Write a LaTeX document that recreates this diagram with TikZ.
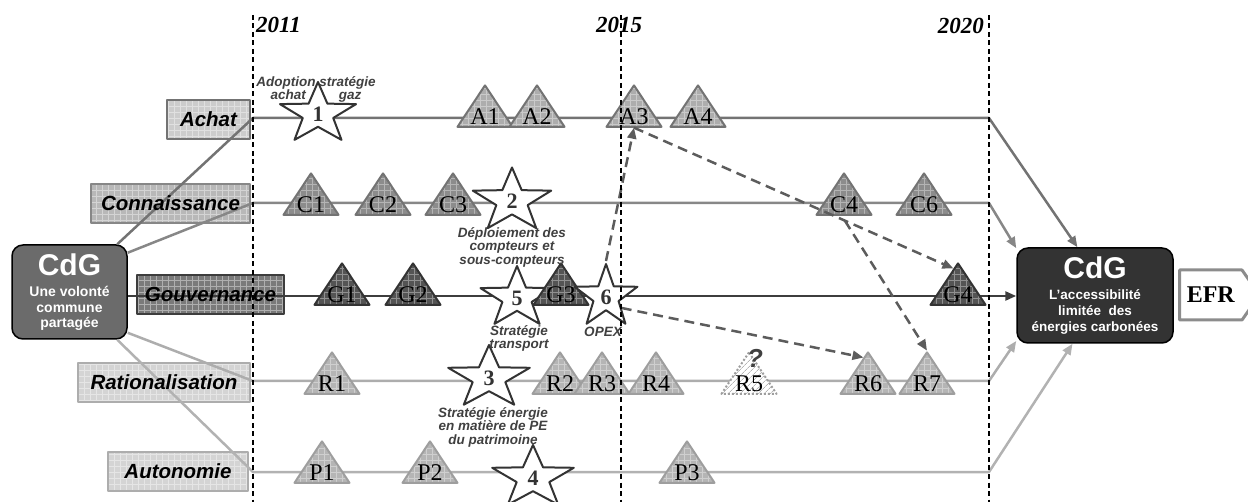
\documentclass[tikz,border=0pt]{standalone}
\usepackage{fontspec}
\setmainfont{Liberation Serif}
\setsansfont{Liberation Sans}
\usetikzlibrary{shapes.geometric,shapes.symbols,arrows.meta,calc,patterns.meta}
\definecolor{lnA}{gray}{0.45}
\definecolor{lnC}{gray}{0.53}
\definecolor{lnG}{gray}{0.24}
\definecolor{lnR}{gray}{0.68}
\definecolor{lnP}{gray}{0.70}
\definecolor{triA}{gray}{0.68}
\definecolor{triC}{gray}{0.55}
\definecolor{triG}{gray}{0.33}
\definecolor{triR}{gray}{0.71}
\definecolor{triRl}{gray}{0.62}
\definecolor{boxA}{gray}{0.80}
\definecolor{boxC}{gray}{0.72}
\definecolor{boxG}{gray}{0.48}
\definecolor{boxR}{gray}{0.83}
\definecolor{cdgleft}{gray}{0.42}
\definecolor{cdgright}{gray}{0.2}
\definecolor{starln}{gray}{0.2}
\definecolor{noteln}{gray}{0.25}
\definecolor{dashln}{gray}{0.36}
\definecolor{efrln}{gray}{0.55}
\begin{document}
\begin{tikzpicture}[x=1pt, y=-1pt, line join=round,
    row box/.style 2 args={draw=#1, line width=2.5pt, preaction={fill=#2},
      pattern={Hatch[angle=0,distance=6pt,line width=0.4pt]}, pattern color=white!40!#2,
      inner sep=0pt, minimum height=39pt},
    box text/.style={inner sep=0pt, font=\sffamily\bfseries\itshape\fontsize{20.5pt}{22pt}\selectfont},
    cdg box/.style={draw=black, line width=1.5pt, rounded corners=11pt, text=white,
      align=center, inner sep=0pt, font=\sffamily\bfseries\fontsize{14pt}{15.5pt}\selectfont},
    mile node/.style 2 args={regular polygon, regular polygon sides=3, minimum size=63.5pt,
      inner sep=0pt, yscale=0.87, line width=2pt, draw=#1, preaction={fill=#2},
      pattern={Hatch[angle=0,distance=6pt,line width=0.5pt]}, pattern color=white!35!#2},
    mile text/.style={font=\fontsize{24pt}{24pt}\selectfont, inner sep=0pt, yshift=-3.5pt},
    r5 node/.style={regular polygon, regular polygon sides=3, minimum size=63.5pt,
      inner sep=0pt, yscale=0.87, line width=2pt, draw=triRl, dotted, preaction={fill=white},
      pattern={Lines[angle=45,distance=4pt,line width=0.8pt]}, pattern color=triR},
    star node/.style={star, star points=5, star point ratio=2.5, minimum size=#1,
      inner sep=0pt, draw=starln, fill=white, line width=2pt},
    star num/.style={font=\bfseries\fontsize{22pt}{22pt}\selectfont, text=starln, inner sep=0pt},
    note/.style={align=center, inner sep=0pt, text=noteln,
      font=\sffamily\bfseries\itshape\fontsize{13.5pt}{13.5pt}\selectfont},
    year/.style={inner sep=0pt, font=\bfseries\itshape\fontsize{23pt}{23pt}\selectfont},
    year line/.style={line width=1.3pt, dash pattern=on 5pt off 3.5pt},
    row line/.style={line width=2.5pt, draw=#1, -{Triangle[length=11pt,width=9pt]}},
    dash arrow/.style={draw=dashln, line width=2.5pt, dash pattern=on 10pt off 6pt,
      -{Triangle[length=11pt,width=9pt]}},
    efr node/.style={signal, signal to=east, signal pointer angle=110, draw=efrln,
      line width=3pt, fill=white, minimum width=80pt, minimum height=50pt, inner sep=0pt,
      font=\bfseries\fontsize{24pt}{24pt}\selectfont} ]
    \useasboundingbox (0,0) rectangle (1248,502);
    % axes boxes
    \node at (208.5,119.5) [row box={lnA}{boxA}, minimum width=83pt] (achat) {};
    \node at (170.5,203.5) [row box={lnC}{boxC}, minimum width=159pt] (conn) {};
    \node at (210.5,294.5) [row box={lnG}{boxG}, minimum width=147pt] (gouv) {};
    \node at (164,382.5) [row box={lnR}{boxR}, minimum width=172pt] (ratio) {};
    \node at (178,471.5) [row box={lnR}{boxR}, minimum width=140pt] (auto) {};
    \node at (69.5,292) [cdg box, fill=cdgleft, minimum width=115pt, minimum height=94pt] (cdgL) {{\fontsize{30pt}{30pt}\selectfont CdG}\\[6pt]Une volonté\\commune\\partagée};
    \node at (1095,295.5) [cdg box, fill=cdgright, minimum width=156pt, minimum height=95pt,
      font=\sffamily\bfseries\fontsize{13.5pt}{16pt}\selectfont] (cdgR) {{\fontsize{30pt}{30pt}\selectfont CdG}\\[5pt]L’accessibilité\\limitée\ \ des\\énergies carbonées};
    \node at (1178,295) [efr node, anchor=west] (efr) {EFR};
    % rows
    \coordinate (a0) at (253,118);
    \coordinate (a9) at (989,118);
    \coordinate (c0) at (253,203);
    \coordinate (c9) at (989,203);
    \coordinate (g0) at (253,296);
    \coordinate (r0) at (253,381);
    \coordinate (r9) at (989,381);
    \coordinate (p0) at (253,472);
    \coordinate (p9) at (989,472);
    \draw [row line=lnA] (cdgL.45) to (a0) to (a9) to (cdgR.110);
    \draw [row line=lnC] (cdgL.34) to (c0) to (c9) to (cdgR.149);
    \draw [row line=lnG] (cdgL.east |- g0) to (cdgR.west |- g0);
    \draw [row line=lnR] (cdgL.-35) to (r0) to (r9) to (cdgR.210);
    \draw [row line=lnP] (cdgL.-45) to (p0) to (p9) to (cdgR.245);
    \node at (achat) [box text] (achatT) {Achat};
    \node at (conn) [box text] (connT) {Connaissance};
    \node at (gouv) [box text] (gouvT) {Gouvernance};
    \node at (ratio) [box text] (ratioT) {Rationalisation};
    \node at (auto) [box text] (autoT) {Autonomie};
    % milestones
    \node at (485,113) [mile node={lnA}{triA}, label={[mile text]center:A1}] (A1) {};
    \node at (537,113) [mile node={lnA}{triA}, label={[mile text]center:A2}] (A2) {};
    \node at (634,113) [mile node={lnA}{triA}, label={[mile text]center:A3}] (A3) {};
    \node at (698,113) [mile node={lnA}{triA}, label={[mile text]center:A4}] (A4) {};
    \node at (311,201) [mile node={lnA}{triC}, label={[mile text]center:C1}] (C1) {};
    \node at (383,201) [mile node={lnA}{triC}, label={[mile text]center:C2}] (C2) {};
    \node at (453,201) [mile node={lnA}{triC}, label={[mile text]center:C3}] (C3) {};
    \node at (844,201) [mile node={lnA}{triC}, label={[mile text]center:C4}] (C4) {};
    \node at (924,201) [mile node={lnA}{triC}, label={[mile text]center:C6}] (C6) {};
    \node at (318,114) [star node=64pt, xscale=1.25, label={[star num]center:1}] (s1) {};
    \node at (512,201) [star node=67pt, xscale=1.23, label={[star num]center:2}] (s2) {};
    \node at (342,291) [mile node={black!80}{triG}, label={[mile text]center:G1}] (G1) {};
    \node at (413,291) [mile node={black!80}{triG}, label={[mile text]center:G2}] (G2) {};
    \node at (517,298) [star node=64pt, xscale=1.2, label={[star num]center:5}] (s5) {};
    \node at (561,291) [mile node={black!80}{triG}, label={[mile text]center:G3}] (G3) {};
    \node at (606,297) [star node=66pt, label={[star num]center:6}] (s6) {};
    \node at (958,291) [mile node={black!80}{triG}, label={[mile text]center:G4}] (G4) {};
    \node at (332,380) [mile node={triRl}{triR}, label={[mile text]center:R1}] (R1) {};
    \node at (560,380) [mile node={triRl}{triR}, label={[mile text]center:R2}] (R2) {};
    \node at (602,380) [mile node={triRl}{triR}, label={[mile text]center:R3}] (R3) {};
    \node at (656,380) [mile node={triRl}{triR}, label={[mile text]center:R4}] (R4) {};
    \node at (749,380) [r5 node, label={[mile text]center:R5}] (R5) {};
    \node at (868,380) [mile node={triRl}{triR}, label={[mile text]center:R6}] (R6) {};
    \node at (927,380) [mile node={triRl}{triR}, label={[mile text]center:R7}] (R7) {};
    \node at (489,378) [star node=66pt, xscale=1.3, label={[star num]center:3}] (s3) {};
    \node at (322,469) [mile node={triRl}{triR}, label={[mile text]center:P1}] (P1) {};
    \node at (430,469) [mile node={triRl}{triR}, label={[mile text]center:P2}] (P2) {};
    \node at (687,469) [mile node={triRl}{triR}, label={[mile text]center:P3}] (P3) {};
    \node at (533,478) [star node=66pt, xscale=1.3, label={[star num]center:4}] (s4) {};
    % star captions
    \node at (316,76) [note, anchor=north] (n1) {Adoption stratégie\\achat\hspace{33pt}gaz};
    \node at (512,227) [note, anchor=north] (n2) {Déploiement des\\compteurs et\\sous-compteurs};
    \node at (519,325) [note, anchor=north] (n5) {Stratégie\\transport};
    \node at (603,332) [note] (n6) {OPEX};
    \node at (493,407) [note, anchor=north] (n3) {Stratégie énergie\\en matière de PE\\du patrimoine};
    \node at (755,358) [note, font=\sffamily\bfseries\itshape\fontsize{26pt}{26pt}\selectfont] (q5) {?};
    % links
    \coordinate (fork) at ($(A3.south)!0.66!(G4.100)$);
    \draw [dash arrow] (A3.south) to (G4.100);
    \draw [dash arrow] (fork) to (R7.corner 1);
    \draw [dash arrow] (s6.north) to (A3.south);
    \draw [dash arrow] (s6.-35) to (R6.100);
    % years
    \draw [year line] (253,15) to (253,502);
    \draw [year line] (621,15) to (621,502);
    \draw [year line] (989,15) to (989,502);
    \node at (256,33) [year, anchor=base west] (y2011) {2011};
    \node at (619,33) [year, anchor=base] (y2015) {2015};
    \node at (984,34) [year, anchor=base east] (y2020) {2020};
\end{tikzpicture}
\end{document}
